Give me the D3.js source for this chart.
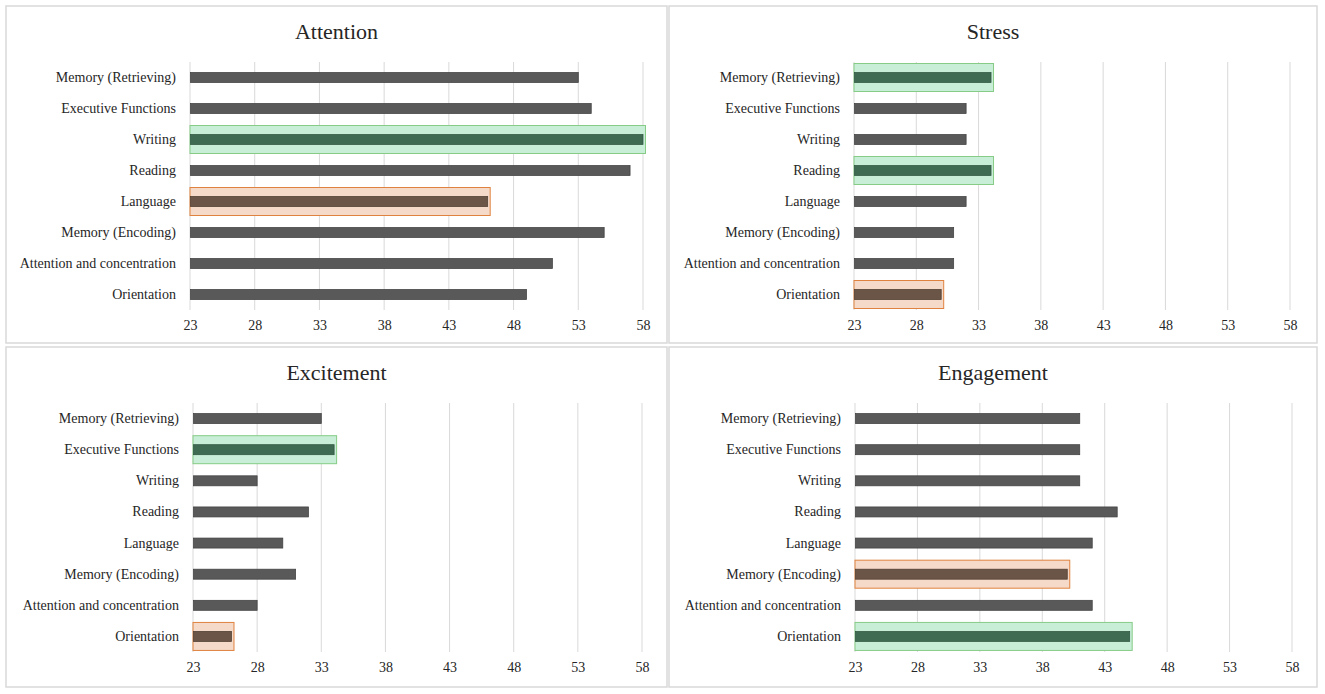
<!DOCTYPE html>
<html>
<head>
<meta charset="utf-8">
<script src="https://cdn.jsdelivr.net/npm/d3@7"></script>
<style>
  body { margin: 0; background: #fff; }
  text { font-family: "Liberation Serif", "Times New Roman", serif; fill: #262626; }
</style>
</head>
<body>
<script>
// categories, top to bottom
var categories = [
  "Memory (Retrieving)",
  "Executive Functions",
  "Writing",
  "Reading",
  "Language",
  "Memory (Encoding)",
  "Attention and concentration",
  "Orientation"
];

var attentionValues  = [53, 54, 58, 57, 46, 55, 51, 49];
var stressValues     = [34, 32, 32, 34, 32, 31, 31, 30];
var excitementValues = [33, 34, 28, 32, 30, 31, 28, 26];
var engagementValues = [41, 41, 41, 44, 42, 40, 42, 45];

var tickLabels = [23, 28, 33, 38, 43, 48, 53, 58];

var titles = ["Attention", "Stress", "Excitement", "Engagement"];
var seriesList = [attentionValues, stressValues, excitementValues, engagementValues];

// panel layout
var layout = [
  {px: 6,   py: 6,   pw: 661, ph: 337, x0: 190, x1: 643,  y0: 62,  y1: 310},
  {px: 669, py: 6,   pw: 648, ph: 337, x0: 854, x1: 1290, y0: 62,  y1: 310},
  {px: 6,   py: 347, pw: 661, ph: 340, x0: 193, x1: 642,  y0: 403, y1: 652},
  {px: 669, py: 347, pw: 648, ph: 340, x0: 855, x1: 1292, y0: 403, y1: 652}
];

var svgWidth = 1325;
var svgHeight = 694;

var svg = d3.select("body")
            .append("svg")
            .attr("width", svgWidth)
            .attr("height", svgHeight);

seriesList.forEach(function(values, i) {
  var L = layout[i];
  var data = categories.map(function(c, j) { return {cat: c, value: values[j]}; });
  var maxV = d3.max(values);
  var minV = d3.min(values);

  var g = svg.append("g");

  // panel frame
  g.append("rect")
    .attr("x", L.px)
    .attr("y", L.py)
    .attr("width", L.pw)
    .attr("height", L.ph)
    .attr("fill", "#fff")
    .attr("stroke", "#d9d9d9")
    .attr("stroke-width", 1.5);

  g.append("text")
    .attr("x", L.px + L.pw / 2)
    .attr("y", L.py + 25)
    .attr("dy", "0.35em")
    .attr("text-anchor", "middle")
    .style("font-size", "22px")
    .text(titles[i]);

  var xScale = d3.scaleLinear()
                 .domain([tickLabels[0], tickLabels[tickLabels.length - 1]])
                 .range([L.x0, L.x1]);

  var yScale = d3.scaleBand()
                 .domain(categories)
                 .range([L.y0, L.y1])
                 .paddingInner(0)
                 .paddingOuter(0);

  // gridlines
  g.selectAll("line.grid")
    .data(tickLabels)
    .enter()
    .append("line")
    .attr("class", "grid")
    .attr("x1", d => xScale(d))
    .attr("x2", d => xScale(d))
    .attr("y1", L.y0)
    .attr("y2", L.y1)
    .attr("stroke", "#d9d9d9")
    .attr("stroke-width", 1);

  // x axis labels
  var bottomAxis = d3.axisBottom(xScale)
                     .tickValues(tickLabels)
                     .tickFormat(d3.format("d"))
                     .tickSize(0)
                     .tickPadding(10);

  var xAxis = g.append("g")
    .attr("transform", `translate(0, ${L.y1})`)
    .call(bottomAxis);
  xAxis.select(".domain").remove();
  xAxis.selectAll("text")
    .style("font-size", "14px")
    .attr("fill", "#262626");

  // category labels
  var leftAxis = d3.axisLeft(yScale)
                   .tickSize(0)
                   .tickPadding(14);

  var yAxis = g.append("g")
    .attr("transform", `translate(${L.x0}, 0)`)
    .call(leftAxis);
  yAxis.select(".domain").remove();
  yAxis.selectAll("text")
    .style("font-size", "14px")
    .attr("fill", "#262626");

  var bh = 10;
  var boxH = 28;

  function kind(d) {
    if (d.value === maxV) return "max";
    if (d.value === minV) return "min";
    return "none";
  }

  // highlight boxes for highest / lowest
  g.selectAll("rect.hl")
    .data(data.filter(d => kind(d) !== "none"))
    .enter()
    .append("rect")
    .attr("class", "hl")
    .attr("x", xScale(tickLabels[0]))
    .attr("y", d => yScale(d.cat) + yScale.bandwidth() / 2 - boxH / 2)
    .attr("width", d => xScale(d.value) - xScale(tickLabels[0]) + 2.5)
    .attr("height", boxH)
    .attr("fill", d => kind(d) === "max" ? "#c8eed8" : "#f5dac9")
    .attr("stroke", d => kind(d) === "max" ? "#86cc86" : "#e0823f")
    .attr("stroke-width", 1);

  g.selectAll("rect.bar")
    .data(data)
    .enter()
    .append("rect")
    .attr("class", "bar")
    .attr("x", xScale(tickLabels[0]) + 0.5)
    .attr("y", d => yScale(d.cat) + yScale.bandwidth() / 2 - bh / 2)
    .attr("width", d => xScale(d.value) - xScale(tickLabels[0]) - 0.5)
    .attr("height", bh)
    .attr("fill", d => kind(d) === "max" ? "#3f6b52" : (kind(d) === "min" ? "#6b5546" : "#595959"))
    .attr("stroke", d => kind(d) === "max" ? "#2f5540" : (kind(d) === "min" ? "#4e3d31" : "#404040"))
    .attr("stroke-width", 0.75);
});
</script>
</body>
</html>
